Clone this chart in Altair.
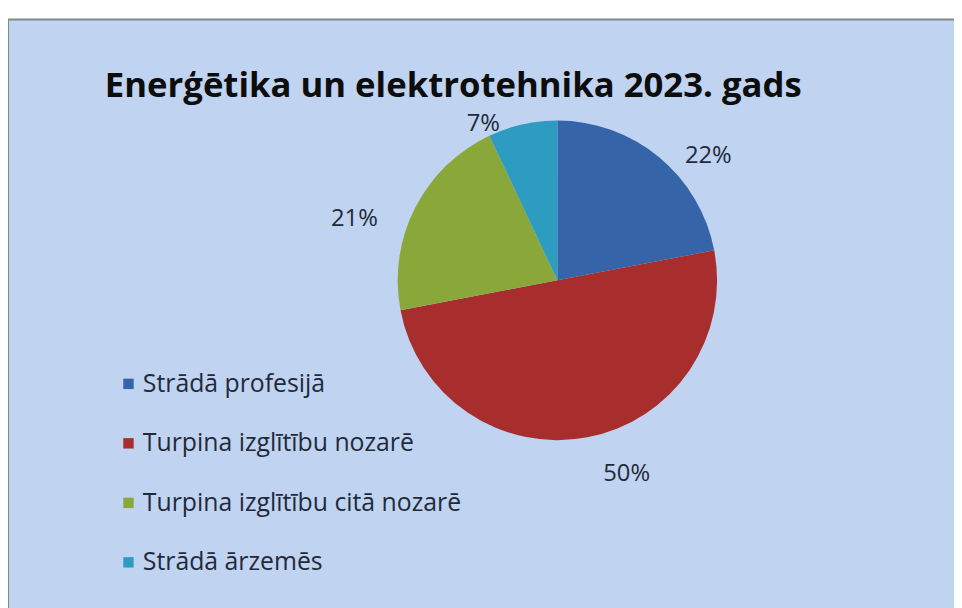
import altair as alt
import pandas as pd
import math

TITLE = "Enerģētika un elektrotehnika 2023. gads"
categories = ["Strādā profesijā", "Turpina izglītību nozarē", "Turpina izglītību citā nozarē", "Strādā ārzemēs"]
values = [22, 50, 21, 7]
colors = ["#3565a8", "#a72e2d", "#8aa83a", "#2e9cc0"]

df = pd.DataFrame({"cat": categories, "val": values, "order": list(range(len(values)))})
df["label"] = df["val"].astype(str) + "%"
TOTAL = sum(values)

W, H = 954, 600
CX, CY, R = 554, 272, 161
FONT = "Open Sans"
TXT = "#1f2a3a"

bg = alt.Chart(pd.DataFrame({"a": [0]})).mark_rect(
    fill="#c0d3f0", stroke="#7c8b8b", strokeWidth=2
).encode(x=alt.value(0), x2=alt.value(W + 20), y=alt.value(9), y2=alt.value(H + 20))

pie = alt.Chart(df).mark_arc(radius=R, stroke=None).encode(
    theta=alt.Theta("val:Q", stack=True),
    order=alt.Order("order:Q"),
    x=alt.value(CX), y=alt.value(CY),
    color=alt.Color(
        "cat:N",
        scale=alt.Scale(domain=categories, range=colors),
        sort=categories,
        legend=alt.Legend(
            title=None, orient="none", legendX=109, legendY=364,
            symbolType="square", symbolSize=110, symbolStrokeWidth=0,
            labelFont=FONT, labelFontSize=25, labelColor=TXT,
            rowPadding=34, labelOffset=2, labelLimit=500,
        ),
    ),
)

lab_base = alt.Chart(df).transform_window(
    cum="sum(val)", sort=[alt.SortField("order")]
).transform_calculate(
    mid="datum.cum - datum.val / 2"
).encode(
    theta=alt.Theta("mid:Q", scale=alt.Scale(domain=[0, TOTAL], range=[0, 2 * math.pi]), stack=None),
    x=alt.value(CX), y=alt.value(CY), text="label:N",
)

lab_right = lab_base.transform_filter(f"datum.mid <= {TOTAL / 2}").mark_text(
    radius=R + 22, dx=12, dy=4, font=FONT, fontSize=24, color=TXT, align="left", baseline="top"
)
lab_left = lab_base.transform_filter(f"datum.mid > {TOTAL / 2}").mark_text(
    radius=R + 22, dx=-18, dy=9, font=FONT, fontSize=24, color=TXT, align="right", baseline="top"
)

title = alt.Chart(pd.DataFrame({"a": [0]})).mark_text(
    text=TITLE, font=FONT, fontSize=35, fontWeight="bold", color="#0d0d0d", align="center", baseline="alphabetic"
).encode(x=alt.value(449), y=alt.value(87))

chart = alt.layer(bg, pie, lab_right, lab_left, title).properties(
    width=W, height=H, background="white", padding=0, autosize=alt.AutoSizeParams(type="none")
).configure_view(stroke=None)

chart.save("out.html", embed_options={"renderer": "svg", "actions": False})
